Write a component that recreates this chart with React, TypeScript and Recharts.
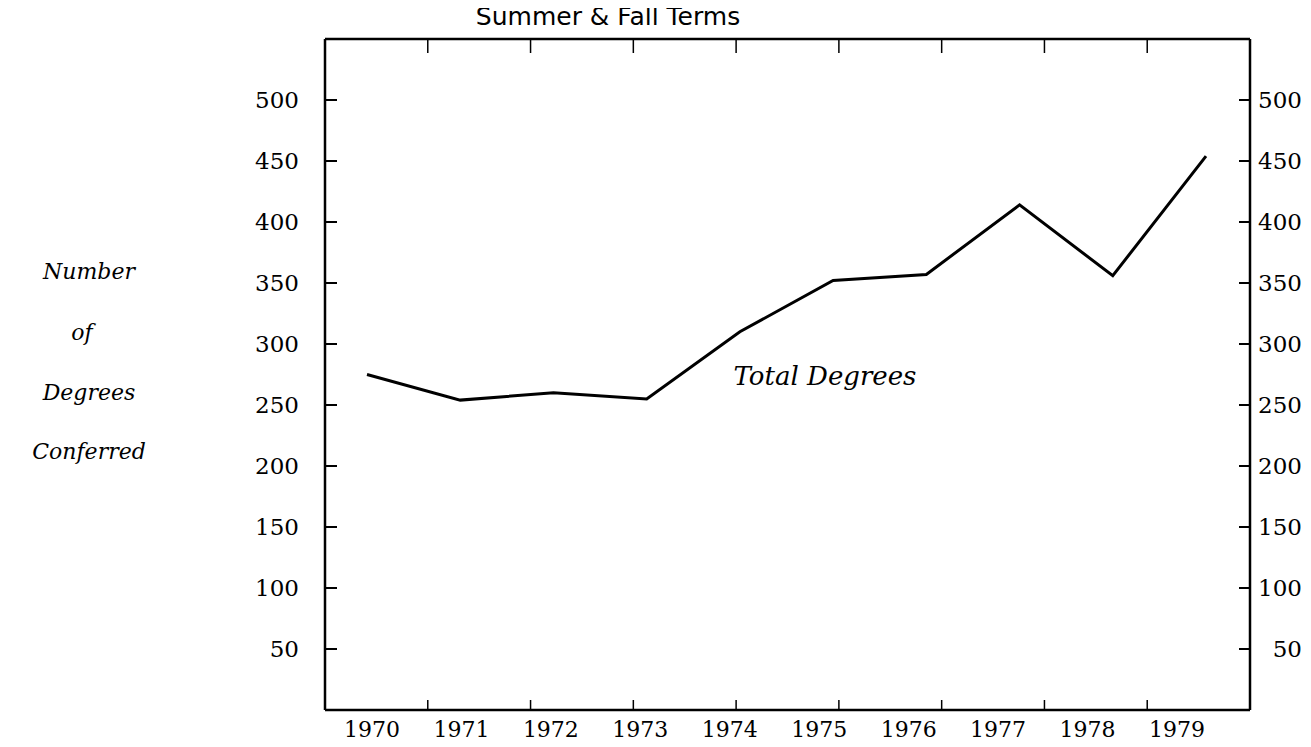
import React from 'react';
import { LineChart, Line, XAxis, YAxis } from 'recharts';

const years = ['1970', '1971', '1972', '1973', '1974', '1975', '1976', '1977', '1978', '1979'];
const totalDegrees = [275, 254, 260, 255, 310, 352, 357, 414, 356, 454];
const yTicks = [50, 100, 150, 200, 250, 300, 350, 400, 450, 500];
const bottomBoundaryTicks = [1, 2, 3, 4, 5, 6, 7, 8, 9];
const topTicks = [1, 2, 3, 4, 5, 6, 7, 8, 9, 10];
const sideLabelLines = ['Number', 'of', 'Degrees', 'Conferred'];
const titleText = 'Summer & Fall Terms';
const seriesLabel = 'Total Degrees';

const data = years.map((year, i) => ({ year, total: totalDegrees[i] }));

const W = 1303;
const H = 739;
const FONT = 'DejaVu Serif';

const LeftTick = (props: any) => {
  const { x, y, payload } = props;
  return (
    <g>
      <line x1={x} x2={x + 12} y1={y} y2={y} stroke="#000" strokeWidth={2} />
      <text x={x - 26} y={y} dy="0.36em" textAnchor="end" fontFamily={FONT} fontSize={23} fill="#000">
        {payload.value}
      </text>
    </g>
  );
};

const RightTick = (props: any) => {
  const { x, y, payload } = props;
  return (
    <g>
      <line x1={x - 11} x2={x} y1={y} y2={y} stroke="#000" strokeWidth={2} />
      <text x={x + 52} y={y} dy="0.36em" textAnchor="end" fontFamily={FONT} fontSize={23} fill="#000">
        {payload.value}
      </text>
    </g>
  );
};

const TopTick = (props: any) => {
  const { x, y } = props;
  return <line x1={x} x2={x} y1={y} y2={y + 14} stroke="#000" strokeWidth={1.5} />;
};

const BottomBoundTick = (props: any) => {
  const { x, y } = props;
  return <line x1={x} x2={x} y1={y - 10} y2={y} stroke="#000" strokeWidth={1.5} />;
};

export default function App() {
  return (
    <div style={{ position: 'relative', width: W, height: 731 }}>
      <LineChart
        width={W}
        height={H}
        data={data}
        margin={{ top: 30, right: 6, bottom: 9, left: 257 }}
      >
        <XAxis
          xAxisId="top"
          orientation="top"
          type="number"
          domain={[0, 11.1]}
          allowDataOverflow
          ticks={topTicks}
          interval={0}
          tick={TopTick}
          height={1}
          tickSize={0}
          tickMargin={0}
          tickLine={false}
          axisLine={{ stroke: '#000', strokeWidth: 2.5 }}
        />
        <XAxis
          xAxisId="bounds"
          orientation="bottom"
          type="number"
          domain={[0, 10.15]}
          allowDataOverflow
          ticks={bottomBoundaryTicks}
          interval={0}
          tick={BottomBoundTick}
          height={1}
          tickSize={0}
          tickMargin={0}
          tickLine={false}
          axisLine={{ stroke: '#000', strokeWidth: 2.5 }}
        />
        <XAxis
          xAxisId="labels"
          dataKey="year"
          orientation="bottom"
          height={27}
          padding={{ left: 47, right: 73 }}
          axisLine={false}
          tickLine={false}
          tickSize={0}
          tickMargin={10}
          interval={0}
          tick={{ fontFamily: FONT, fontSize: 22, fill: '#000' }}
        />
        <XAxis xAxisId="line" dataKey="year" hide padding={{ left: 42, right: 44 }} />
        <YAxis
          yAxisId="left"
          orientation="left"
          domain={[0, 550]}
          allowDataOverflow
          ticks={yTicks}
          interval={0}
          width={60}
          tickSize={0}
          tickMargin={0}
          tickLine={false}
          axisLine={{ stroke: '#000', strokeWidth: 2.5 }}
          tick={LeftTick}
        />
        <YAxis
          yAxisId="right"
          orientation="right"
          domain={[0, 550]}
          allowDataOverflow
          ticks={yTicks}
          interval={0}
          width={55}
          tickSize={0}
          tickMargin={0}
          tickLine={false}
          axisLine={{ stroke: '#000', strokeWidth: 2.5 }}
          tick={RightTick}
        />
        <Line
          xAxisId="line"
          yAxisId="left"
          type="linear"
          dataKey="total"
          stroke="#000"
          strokeWidth={3}
          dot={false}
          activeDot={false}
          isAnimationActive={false}
        />
      </LineChart>
      <svg
        width={W}
        height={739}
        style={{ position: 'absolute', left: 0, top: -8, pointerEvents: 'none', overflow: 'visible' }}
      >
        <text x={600} y={25} textAnchor="middle" fontFamily="DejaVu Sans" fontSize={25} fill="#000">
          {titleText}
        </text>
        {sideLabelLines.map((t, i) => (
          <text
            key={t}
            x={i === 1 ? 74 : 81}
            y={[279, 340, 400, 459][i]}
            textAnchor="middle"
            fontFamily={FONT}
            fontStyle="italic"
            fontSize={22}
            fill="#000"
          >
            {t}
          </text>
        ))}
        <text x={817} y={385} textAnchor="middle" fontFamily={FONT} fontStyle="italic" fontSize={26} fill="#000">
          {seriesLabel}
        </text>
      </svg>
    </div>
  );
}
